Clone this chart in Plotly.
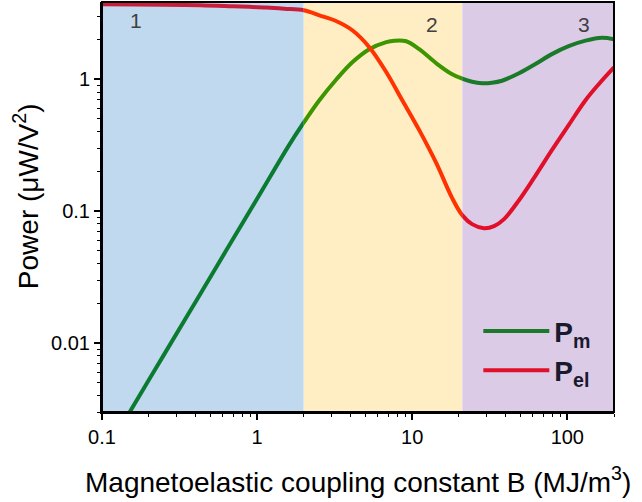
import numpy as np
import plotly.graph_objects as go

# ---- data ----
B_m = [0.13, 0.15, 0.25, 0.4, 0.63, 1.0, 1.6, 2.0, 2.52, 3.25, 4.11, 5.29, 6.81, 7.66, 9.15,
       11.1, 14.3, 18.1, 21, 24.3, 28.2, 32.7, 37.9, 48.8, 62.7, 79.5, 102, 131, 167, 200]
Pm = [0.00222, 0.00296, 0.0081, 0.0204, 0.05, 0.124, 0.314, 0.47, 0.693, 1.0, 1.345, 1.69,
      1.91, 1.96, 1.94, 1.69, 1.32, 1.09, 1.01, 0.957, 0.933, 0.941, 0.974, 1.11, 1.31,
      1.55, 1.78, 1.96, 2.06, 2.01]
B_el = [0.1, 0.43, 0.7, 1.15, 1.5, 2.0, 2.52, 3.25, 4.11, 5.29, 6.81, 8.63, 11.1, 14.3,
        18.1, 21, 24.3, 29, 33.7, 39.1, 48.8, 60.9, 79.5, 102, 131, 159.5, 200]
Pel = [3.70, 3.64, 3.57, 3.49, 3.42, 3.33, 3.05, 2.75, 2.35, 1.75, 1.13, 0.693, 0.411,
       0.231, 0.1255, 0.0933, 0.0797, 0.0743, 0.077, 0.087, 0.121, 0.178, 0.29, 0.449,
       0.693, 0.917, 1.23]
region_edges = [0.1, 2, 21, 200]
region_labels = ["1", "2", "3"]
x_tickvals = [0.1, 1, 10, 100]
x_ticktext = ["0.1", "1", "10", "100"]
y_tickvals = [0.01, 0.1, 1]
y_ticktext = ["0.01", "0.1", "1"]
y_range = [0.003, 3.85]

region_fill = ["#c1d9ee", "#ffeec4", "#dccbe7"]
green_cols = ["#0b7b32", "#3c9600", "#1b7a2a"]
red_cols = ["#c81e3c", "#ff3300", "#e0102a"]

FONT = "Liberation Sans, Arial, sans-serif"

# domains proportional to log extent of each region (same px per decade everywhere)
logs = np.log10(region_edges)
fr = (logs - logs[0]) / (logs[-1] - logs[0])
domains = [[fr[i], fr[i + 1]] for i in range(3)]
axnames = ["x", "x2", "x3"]

fig = go.Figure()

# background regions
for i in range(3):
    x0, x1 = region_edges[i], region_edges[i + 1]
    fig.add_trace(go.Scatter(x=[x0, x1, x1, x0, x0], y=[1e-4, 1e-4, 100, 100, 1e-4],
                             fill="toself", fillcolor=region_fill[i], mode="none",
                             hoverinfo="skip", showlegend=False, xaxis=axnames[i], yaxis="y"))

for name, xv, vals, cols in [("<b>P<sub>m</sub></b>", B_m, Pm, green_cols),
                             ("<b>P<sub>el</sub></b>", B_el, Pel, red_cols)]:
    for i in range(3):
        fig.add_trace(go.Scatter(x=xv, y=vals, mode="lines",
                                 line=dict(color=cols[i], width=4, shape="spline", smoothing=1.0),
                                 name=name, showlegend=(i == 2), hoverinfo="skip",
                                 xaxis=axnames[i], yaxis="y"))

# region labels
label_x = [0.066, 0.645, 0.941]
label_y = [0.956, 0.946, 0.946]
for i, t in enumerate(region_labels):
    fig.add_annotation(text=t, xref="paper", yref="paper", x=label_x[i], y=label_y[i],
                       xanchor="center", yanchor="middle", showarrow=False,
                       font=dict(family=FONT, size=21, color="#404040"))

# axis titles
fig.add_annotation(text="Magnetoelastic coupling constant B (MJ/m<sup>3</sup>)",
                   xref="paper", yref="paper", x=0.5, y=-0.165, xanchor="center", yanchor="middle",
                   showarrow=False, font=dict(family=FONT, size=28, color="black"))
fig.add_annotation(text="Power (μW/V<sup>2</sup>)", textangle=-90,
                   xref="paper", yref="paper", x=-0.148, y=0.527, xanchor="center", yanchor="middle",
                   showarrow=False, font=dict(family=FONT, size=28, color="black"))

all_minor_x = [m * 10 ** e for e in range(-1, 3) for m in range(2, 10)]
minor_y = [m * 10 ** e for e in range(-3, 1) for m in range(2, 10) if y_range[0] <= m * 10 ** e <= y_range[1]]

layout_axes = {}
for i, an in enumerate(axnames):
    lo, hi = region_edges[i], region_edges[i + 1]
    inc_lo = (lambda v: v >= lo) if i == 0 else (lambda v: v > lo)
    tv = [v for v in x_tickvals if inc_lo(v) and v <= hi]
    tt = [x_ticktext[x_tickvals.index(v)] for v in tv]
    mv = [v for v in all_minor_x if inc_lo(v) and v <= hi]
    key = "xaxis" if i == 0 else "xaxis%d" % (i + 1)
    layout_axes[key] = dict(type="log", domain=domains[i], range=[np.log10(lo), np.log10(hi)],
                            anchor="y", tickvals=tv, ticktext=tt,
                            ticks="outside", ticklen=6, tickwidth=1.5, tickcolor="black",
                            showline=True, linecolor="black", linewidth=2,
                            showgrid=False, zeroline=False,
                            tickfont=dict(family=FONT, size=20, color="black"),
                            minor=dict(tickvals=mv, ticks="outside", ticklen=3, tickwidth=1.2,
                                       tickcolor="black", showgrid=False))

fig.update_layout(**layout_axes)
fig.update_layout(yaxis=dict(type="log", domain=[0, 1], anchor="x",
                             range=[np.log10(y_range[0]), np.log10(y_range[1])],
                             tickvals=y_tickvals, ticktext=y_ticktext,
                             ticks="outside", ticklen=6, tickwidth=1.5, tickcolor="black",
                             showline=True, linecolor="black", linewidth=2,
                             showgrid=False, zeroline=False,
                             tickfont=dict(family=FONT, size=20, color="black"),
                             minor=dict(tickvals=minor_y, ticks="outside", ticklen=3, tickwidth=1.2,
                                        tickcolor="black", showgrid=False)))

# plot frame
fig.add_shape(type="rect", xref="paper", yref="paper", x0=0, x1=1, y0=0, y1=1,
              line=dict(color="black", width=2), fillcolor="rgba(0,0,0,0)", layer="above")

fig.update_layout(width=642, height=502, margin=dict(l=102, r=28, t=2, b=90),
                  paper_bgcolor="white", plot_bgcolor="white",
                  legend=dict(x=0.735, y=0.258, xanchor="left", yanchor="top",
                              bgcolor="rgba(0,0,0,0)", itemwidth=66,
                              font=dict(family=FONT, size=28, color="#1a1a2e"),
                              tracegroupgap=0))

fig.write_html("out.html")
